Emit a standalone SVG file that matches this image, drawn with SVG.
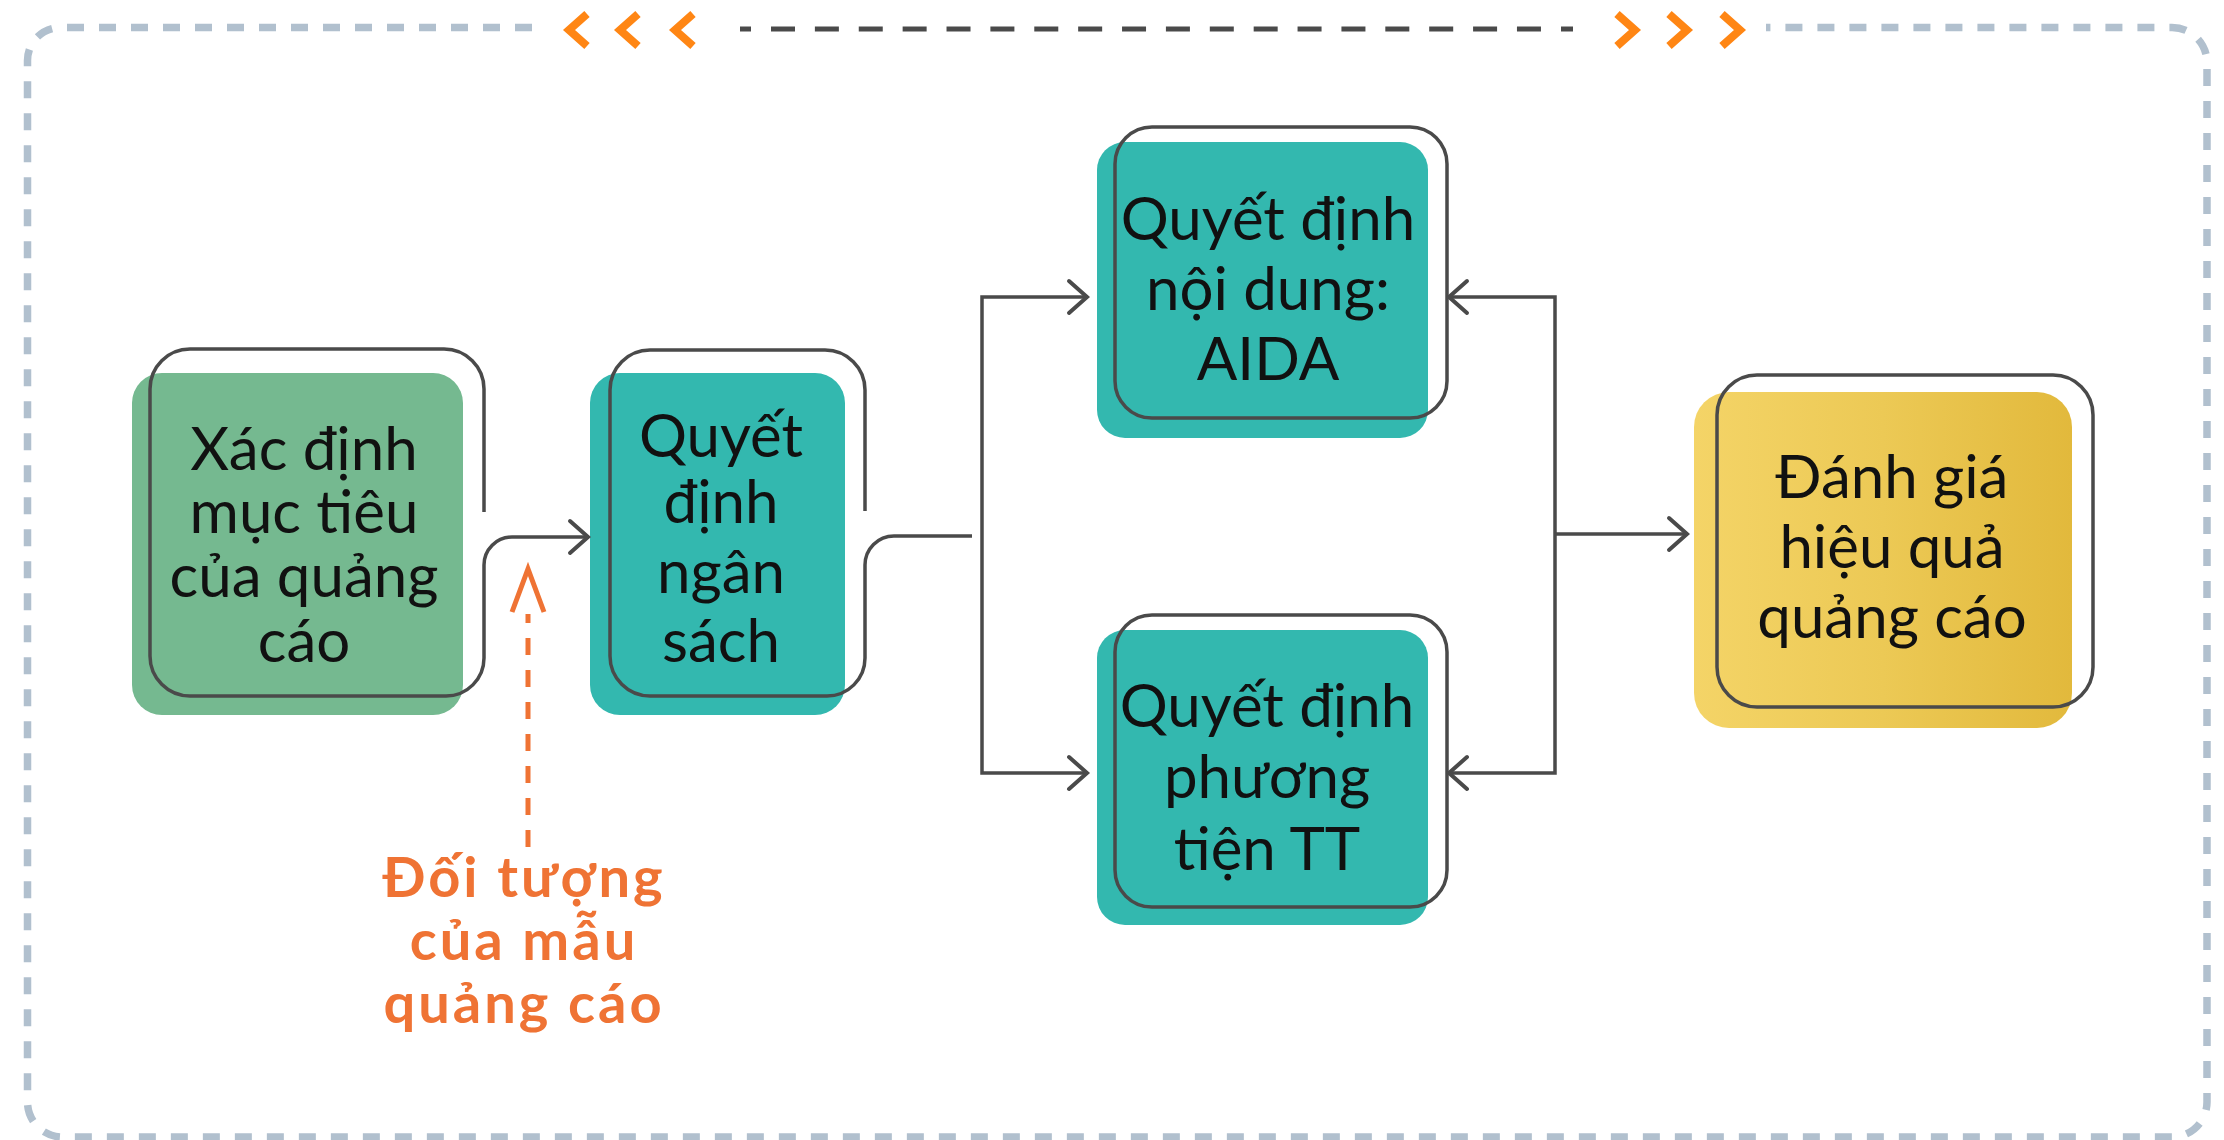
<svg xmlns="http://www.w3.org/2000/svg" width="2224" height="1140" viewBox="0 0 2224 1140">
<style>
  .frame{fill:none;stroke:#b1c0ce;stroke-width:7.5;stroke-dasharray:17 15}
  .chev{fill:none;stroke:#ff8614;stroke-width:8;stroke-linejoin:miter;stroke-linecap:butt}
  .outline{fill:none;stroke:#4a4a4a;stroke-width:3.5}
  .conn{fill:none;stroke:#4a4a4a;stroke-width:3.5;stroke-linejoin:miter}
  .head{fill:none;stroke:#4a4a4a;stroke-width:4;stroke-linejoin:miter;stroke-linecap:round}
  .label{font-family:Lato,"Noto Sans","Open Sans",sans-serif;font-size:60px;fill:#111;text-anchor:middle}
  .note{font-family:Lato,"Noto Sans","Open Sans",sans-serif;font-size:56px;font-weight:700;fill:#ef7334;text-anchor:middle;letter-spacing:3px}
</style>
<defs>
  <linearGradient id="gold" x1="0" y1="0" x2="1" y2="0">
    <stop offset="0" stop-color="#f4d467"/>
    <stop offset="0.5" stop-color="#ecc955"/>
    <stop offset="1" stop-color="#e2b93c"/>
  </linearGradient>
</defs>
<rect width="2224" height="1140" fill="#ffffff"/>

<g id="frame">
  <path class="frame" d="M532,27.5 H60.5 A33,33 0 0 0 27.5,60.5 V1102 A35,35 0 0 0 62.5,1137 H2172 A35,35 0 0 0 2207,1102 V62.5 A35,35 0 0 0 2172,27.5 H1766"/>
  <polyline class="chev" points="587,14 569,30 587,46"/>
  <polyline class="chev" points="638,14 620,30 638,46"/>
  <polyline class="chev" points="693,14 675,30 693,46"/>
  <line x1="740" y1="29" x2="751" y2="29" stroke="#4a4a4a" stroke-width="5"/>
  <line x1="771" y1="29" x2="1541" y2="29" stroke="#4a4a4a" stroke-width="5" stroke-dasharray="24 19.88"/>
  <line x1="1561" y1="29" x2="1573" y2="29" stroke="#4a4a4a" stroke-width="5"/>
  <polyline class="chev" points="1617,14 1635,30 1617,46"/>
  <polyline class="chev" points="1669,14 1687,30 1669,46"/>
  <polyline class="chev" points="1722,14 1740,30 1722,46"/>
</g>

<g id="node-muc-tieu">
  <rect x="132" y="373" width="331" height="342" rx="30" fill="#75b990"/>
  <path class="outline" d="M484,512 V389 A40,40 0 0 0 444,349 H190 A40,40 0 0 0 150,389 V656 A40,40 0 0 0 190,696 H446 A38,38 0 0 0 484,658"/>
  <text class="label" x="304" y="470">Xác định</text>
  <text class="label" x="304" y="533">mục tiêu</text>
  <text class="label" x="304" y="597">của quảng</text>
  <text class="label" x="304" y="662">cáo</text>
</g>

<g id="node-ngan-sach">
  <rect x="590" y="373" width="255" height="342" rx="30" fill="#33b8af"/>
  <path class="outline" d="M865,511 V390 A40,40 0 0 0 825,350 H650 A40,40 0 0 0 610,390 V656 A40,40 0 0 0 650,696 H827 A38,38 0 0 0 865,658"/>
  <text class="label" x="721" y="457">Quyết</text>
  <text class="label" x="721" y="523">định</text>
  <text class="label" x="721" y="593">ngân</text>
  <text class="label" x="721" y="662">sách</text>
</g>

<g id="node-noi-dung">
  <rect x="1097" y="142" width="331" height="296" rx="28" fill="#33b8af"/>
  <rect class="outline" x="1115" y="127" width="332" height="291" rx="37"/>
  <text class="label" x="1268" y="240">Quyết định</text>
  <text class="label" x="1268" y="310">nội dung:</text>
  <text class="label" x="1268" y="380">AIDA</text>
</g>

<g id="node-phuong-tien">
  <rect x="1097" y="630" width="331" height="295" rx="28" fill="#33b8af"/>
  <rect class="outline" x="1115" y="615" width="332" height="292" rx="37"/>
  <text class="label" x="1267" y="727">Quyết định</text>
  <text class="label" x="1267" y="798">phương</text>
  <text class="label" x="1267" y="870">tiện TT</text>
</g>

<g id="node-danh-gia">
  <rect x="1694" y="392" width="378" height="336" rx="35" fill="url(#gold)"/>
  <rect class="outline" x="1717" y="375" width="376" height="332" rx="40"/>
  <text class="label" x="1892" y="498">Đánh giá</text>
  <text class="label" x="1892" y="568">hiệu quả</text>
  <text class="label" x="1892" y="638">quảng cáo</text>
</g>

<g id="node-doi-tuong">
  <text class="note" x="524" y="897">Đối tượng</text>
  <text class="note" x="524" y="960">của mẫu</text>
  <text class="note" x="524" y="1023">quảng cáo</text>
</g>

<g id="connectors">
  <path class="conn" d="M484,658 V565 A28,28 0 0 1 512,537 H586"/>
  <polyline class="head" points="570,521 588,537 570,553"/>
  <path class="conn" d="M865,658 V565 A29,29 0 0 1 894,536 H972"/>
  <path class="conn" d="M1085,297 H982 V773 H1085"/>
  <polyline class="head" points="1069,281 1087,297 1069,313"/>
  <polyline class="head" points="1069,757 1087,773 1069,789"/>
  <path class="conn" d="M1451,297 H1555 V773 H1451"/>
  <polyline class="head" points="1467,281 1449,297 1467,313"/>
  <polyline class="head" points="1467,757 1449,773 1467,789"/>
  <path class="conn" d="M1555,534 H1685"/>
  <polyline class="head" points="1669,518 1687,534 1669,550"/>
  <line x1="528" y1="847" x2="528" y2="614" stroke="#ef7334" stroke-width="5" stroke-dasharray="17 15"/>
  <polyline points="512,612 528,569 544,612" fill="none" stroke="#ef7334" stroke-width="5" stroke-linejoin="miter"/>
</g>
</svg>
